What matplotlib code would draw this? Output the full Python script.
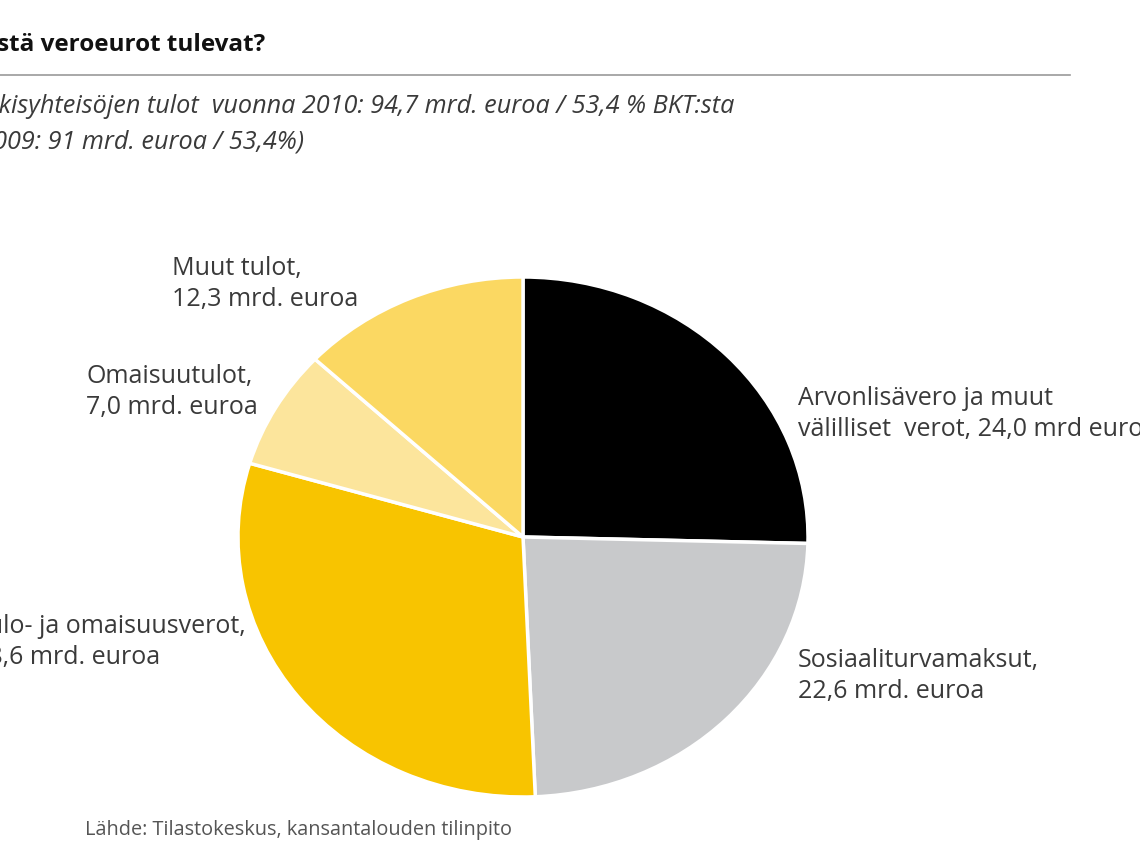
import matplotlib.pyplot as plt

# data
labels = ['Arvonlisävero ja muut\nvälilliset  verot, 24,0 mrd euroa',
          'Sosiaaliturvamaksut,\n22,6 mrd. euroa',
          'Tulo- ja omaisuusverot,\n28,6 mrd. euroa',
          'Omaisuutulot,\n7,0 mrd. euroa',
          'Muut tulot,\n12,3 mrd. euroa']
values = [24.0, 22.6, 28.6, 7.0, 12.3]
colors = ['#000000', '#c8c9cb', '#f8c400', '#fce59c', '#fbd862']

title = 'Mistä veroeurot tulevat?'
subtitle = 'Julkisyhteisöjen tulot  vuonna 2010: 94,7 mrd. euroa / 53,4 % BKT:sta\n(2009: 91 mrd. euroa / 53,4%)'
source = 'Lähde: Tilastokeskus, kansantalouden tilinpito'

plt.rcParams['font.family'] = ['Open Sans', 'DejaVu Sans']
W, H = 1140, 855
fig = plt.figure(figsize=(11.4, 8.55), dpi=100)

# pie axes, stretched a little horizontally like the original
cx, cy, rx, ry = 523, 537, 285, 260
ax = fig.add_axes([(cx - rx) / W, (H - cy - ry) / H, 2 * rx / W, 2 * ry / H])
ax.pie(values, colors=colors, startangle=90, counterclock=False,
       wedgeprops=dict(edgecolor='white', linewidth=2.5))
ax.set_aspect('auto')
ax.set_xlim(-1, 1)
ax.set_ylim(-1, 1)
ax.axis('off')

# overlay axes in pixel coordinates for the text
tx = fig.add_axes([0, 0, 1, 1])
tx.set_xlim(0, W)
tx.set_ylim(H, 0)
tx.axis('off')
tx.patch.set_alpha(0)

txt = '#3a3a3a'
# the original picture is cropped on the left and right, so some texts run off the edge
tx.text(265, 45, title, ha='right', va='center', fontsize=17.5, fontweight='bold', color='#111111')
tx.plot([0, 1070], [75, 75], color='#9a9a9a', lw=1.2)
tx.text(735, 124, subtitle, ha='right', va='center', fontsize=18.2, style='italic',
        color=txt, multialignment='left', linespacing=1.55)

fs = 18
ls = 1.3
tx.text(798, 414, labels[0], ha='left', va='center', fontsize=fs, color=txt, linespacing=ls)
tx.text(798, 676, labels[1], ha='left', va='center', fontsize=fs, color=txt, linespacing=ls)
tx.text(246, 642, labels[2], ha='right', va='center', fontsize=fs, color=txt,
        multialignment='left', linespacing=ls)
tx.text(86, 392, labels[3], ha='left', va='center', fontsize=fs, color=txt, linespacing=ls)
tx.text(172, 284, labels[4], ha='left', va='center', fontsize=fs, color=txt, linespacing=ls)

tx.text(85, 830, source, ha='left', va='center', fontsize=14.3, color='#555555')

fig.savefig('out.png', dpi=100)
